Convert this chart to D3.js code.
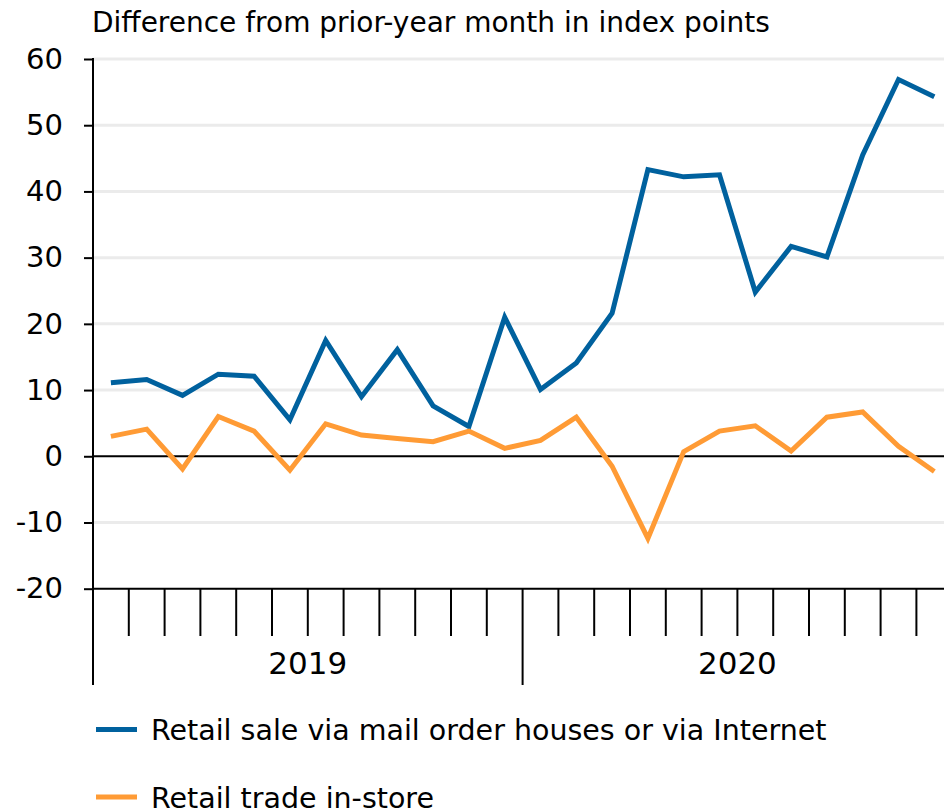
<!DOCTYPE html>
<html>
<head>
<meta charset="utf-8">
<script src="https://cdn.jsdelivr.net/npm/d3@7"></script>
<style>
  html, body { margin: 0; padding: 0; background: #fff; }
  svg { display: block; font-family: "DejaVu Sans", sans-serif; }
</style>
</head>
<body>
<svg id="chart" width="944" height="809"></svg>
<script>
// monthly data, Jan 2019 - Dec 2020
const months = [
  "2019-01","2019-02","2019-03","2019-04","2019-05","2019-06",
  "2019-07","2019-08","2019-09","2019-10","2019-11","2019-12",
  "2020-01","2020-02","2020-03","2020-04","2020-05","2020-06",
  "2020-07","2020-08","2020-09","2020-10","2020-11","2020-12"
];
const internet = [11.1, 11.6, 9.2, 12.4, 12.1, 5.5, 17.5, 9.0, 16.1, 7.6, 4.5, 21.0,
                  10.1, 14.1, 21.6, 43.3, 42.2, 42.5, 24.8, 31.7, 30.1, 45.5, 56.9, 54.3];
const inStore  = [3.0, 4.1, -1.9, 6.0, 3.8, -2.1, 4.9, 3.2, 2.7, 2.2, 3.8, 1.2,
                  2.4, 5.9, -1.5, -12.4, 0.7, 3.8, 4.6, 0.8, 5.9, 6.7, 1.5, -2.3];
const yTicks = [-20, -10, 0, 10, 20, 30, 40, 50, 60];
const years = ["2019", "2020"];
const seriesNames = ["Retail sale via mail order houses or via Internet", "Retail trade in-store"];
const colors = ["#00619E", "#FF9B35"];

const svg = d3.select("#chart");
const W = 944;
const plotLeft = 93, plotTop = 59, plotBottom = 588.7;
const band = 35.8;

const x = d3.scaleBand().domain(months).range([plotLeft, plotLeft + band * months.length]);
const y = d3.scaleLinear().domain([-20, 60]).range([plotBottom, plotTop]);

// title
svg.append("text")
  .attr("x", 92).attr("y", 32)
  .style("font-size", "28px")
  .text("Difference from prior-year month in index points");

// gridlines
svg.append("g").selectAll("line")
  .data(yTicks.filter(d => d !== 0 && d !== -20))
  .join("line")
    .attr("x1", plotLeft).attr("x2", W)
    .attr("y1", d => y(d)).attr("y2", d => y(d))
    .attr("stroke", "#ebebeb").attr("stroke-width", 3);

// zero line
svg.append("line")
  .attr("x1", plotLeft).attr("x2", W)
  .attr("y1", y(0)).attr("y2", y(0))
  .attr("stroke", "#000").attr("stroke-width", 2);

// y axis
const yAxis = svg.append("g")
  .attr("transform", `translate(${plotLeft},0)`)
  .call(d3.axisLeft(y).tickValues(yTicks).tickSize(9).tickPadding(21).tickFormat(d => String(d)));
yAxis.select(".domain").remove();
yAxis.selectAll(".tick line").attr("stroke", "#000").attr("stroke-width", 2);
yAxis.selectAll(".tick text")
  .attr("fill", "#000")
  .style("font-size", "29px")
  .style("font-family", "DejaVu Sans, sans-serif");

// left axis line, runs down through the x tick area
svg.append("line")
  .attr("x1", plotLeft).attr("x2", plotLeft)
  .attr("y1", plotTop - 1).attr("y2", 685)
  .attr("stroke", "#000").attr("stroke-width", 2);

// bottom axis line at -20
svg.append("line")
  .attr("x1", plotLeft).attr("x2", W)
  .attr("y1", y(-20)).attr("y2", y(-20))
  .attr("stroke", "#000").attr("stroke-width", 2);

// month boundary ticks, long at year start
svg.append("g").selectAll("line")
  .data(months.slice(1))
  .join("line")
    .attr("x1", d => x(d)).attr("x2", d => x(d))
    .attr("y1", plotBottom)
    .attr("y2", d => d.endsWith("-01") ? 685 : 636)
    .attr("stroke", "#000").attr("stroke-width", 2);

// year labels
svg.append("g").selectAll("text")
  .data(years)
  .join("text")
    .attr("x", d => {
      const ms = months.filter(m => m.startsWith(d));
      return (x(ms[0]) + x(ms[ms.length - 1]) + band) / 2;
    })
    .attr("y", 674)
    .attr("text-anchor", "middle")
    .style("font-size", "31px")
    .text(d => d);

// lines
const line = d3.line()
  .x((d, i) => x(months[i]) + x.bandwidth() / 2)
  .y(d => y(d));

[internet, inStore].forEach((vals, k) => {
  svg.append("path")
    .datum(vals)
    .attr("d", line)
    .attr("fill", "none")
    .attr("stroke", colors[k])
    .attr("stroke-width", 5);
});

// legend
const legend = svg.append("g").selectAll("g")
  .data(seriesNames)
  .join("g")
    .attr("transform", (d, i) => `translate(96,${729.5 + i * 67.5})`);
legend.append("line")
  .attr("x1", 0).attr("x2", 41)
  .attr("stroke", (d, i) => colors[i]).attr("stroke-width", 5);
legend.append("text")
  .attr("x", 55).attr("y", 10.5)
  .style("font-size", "28.5px")
  .text(d => d);
</script>
</body>
</html>
